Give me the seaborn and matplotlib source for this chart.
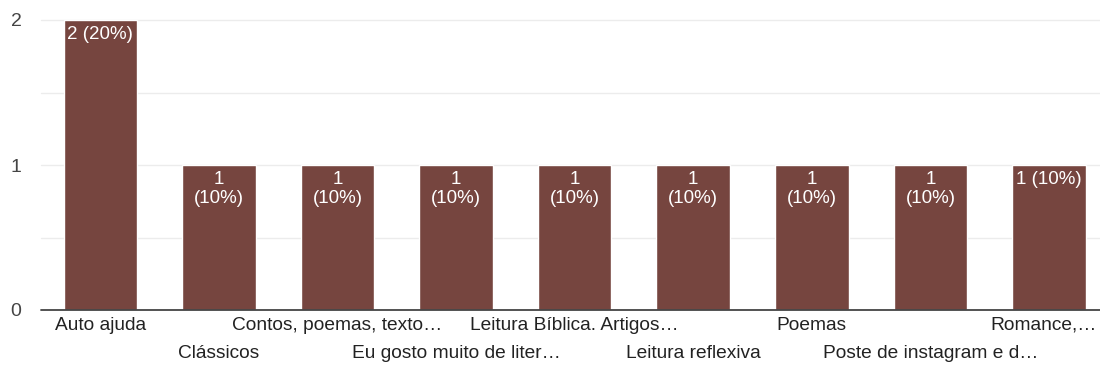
import matplotlib
matplotlib.use("Agg")
import matplotlib.pyplot as plt
import matplotlib.transforms as mtransforms
import seaborn as sns
import pandas as pd

# dados
categorias = ["Auto ajuda", "Clássicos", "Contos, poemas, texto…", "Eu gosto muito de liter…",
              "Leitura Bíblica. Artigos…", "Leitura reflexiva", "Poemas",
              "Poste de instagram e d…", "Romance,…"]
contagens = [2, 1, 1, 1, 1, 1, 1, 1, 1]
rotulos = ["2 (20%)", "1\n(10%)", "1\n(10%)", "1\n(10%)", "1\n(10%)", "1\n(10%)",
           "1\n(10%)", "1\n(10%)", "1 (10%)"]

COR_BARRA = "#76453f"
COR_TEXTO = "#222222"

sns.set_style("white")
plt.rcParams['font.family'] = ['Liberation Sans', 'DejaVu Sans']

df = pd.DataFrame({"categoria": categorias, "n": contagens})

fig = plt.figure(figsize=(11, 3.69), dpi=100)
ax = fig.add_axes([41 / 1100, 1 - 310 / 369, 1 - 41 / 1100, (310 - 20) / 369])

# grade
for y in [0.5, 1, 1.5, 2]:
    ax.axhline(y, color="#ececec", linewidth=1, zorder=0, clip_on=False)

sns.barplot(data=df, x="categoria", y="n", color=COR_BARRA, width=0.62,
            saturation=1, ax=ax, zorder=2)

ax.axhline(0, color="#444444", linewidth=1.3, zorder=3, clip_on=False)

for i, (v, txt) in enumerate(zip(contagens, rotulos)):
    ax.annotate(txt, xy=(i, v), xytext=(0, -4.5), textcoords="offset points",
                ha="center", va="top", color="white", fontsize=13.5,
                linespacing=1.1, zorder=4)

ax.set_xlim(-0.5, 8.43)
ax.set_ylim(0, 2)
ax.set_yticks([0, 1, 2])
ax.set_yticklabels(["0", "1", "2"], fontsize=14, color="#444444")
ax.tick_params(axis="y", length=0, pad=14)
ax.tick_params(axis="x", length=0)

ax.set_xticks(range(len(categorias)))
ax.set_xticklabels(categorias, fontsize=13.8, color=COR_TEXTO)
# rótulos alternados em duas linhas
for i, tick in enumerate(ax.xaxis.get_major_ticks()):
    tick.set_pad(5 if i % 2 == 0 else 25)

# o último rótulo encosta na borda: desloca um pouco para a esquerda
ultimo = ax.get_xticklabels()[-1]
ultimo.set_transform(ultimo.get_transform() +
                     mtransforms.ScaledTranslation(-5 / 100, 0, fig.dpi_scale_trans))

ax.set_xlabel("")
ax.set_ylabel("")
for s in ax.spines.values():
    s.set_visible(False)

fig.savefig("out.png", dpi=100)
